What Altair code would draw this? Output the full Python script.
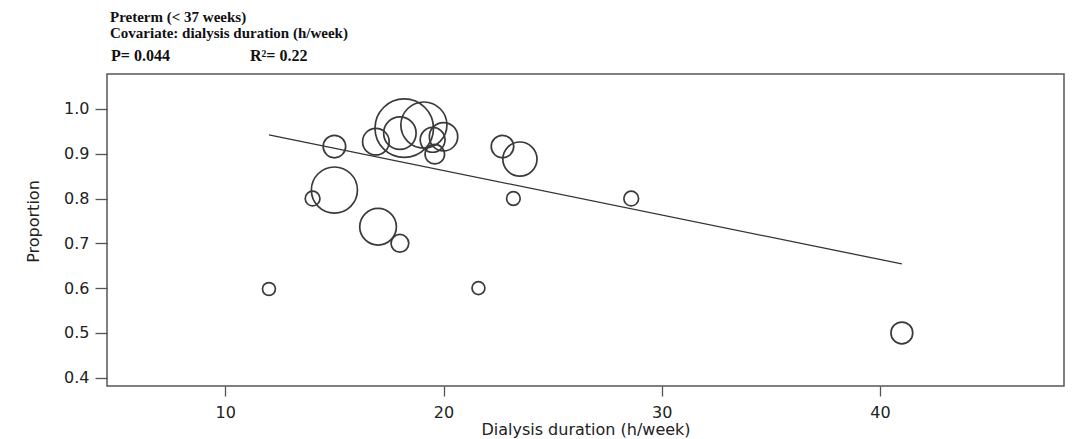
import altair as alt
import pandas as pd

# Study-level data
duration = [15.0, 16.9, 18.2, 18.0, 19.1, 20.0, 19.5, 19.6, 22.7, 23.5, 23.2,
            15.0, 14.0, 17.0, 18.0, 28.6, 21.6, 12.0, 41.0]
proportion = [0.916, 0.927, 0.957, 0.946, 0.964, 0.938, 0.931, 0.899, 0.916, 0.888, 0.80,
              0.819, 0.80, 0.737, 0.70, 0.80, 0.60, 0.598, 0.50]
weight = [161, 225, 1089, 335, 676, 256, 196, 121, 161, 372, 59,
          676, 69, 428, 100, 69, 53, 53, 151]

# Meta-regression line endpoints
line_x = [12.0, 41.0]
line_y = [0.942, 0.654]

title_lines = ["Preterm (< 37 weeks)", "Covariate: dialysis duration (h/week)"]
p_text = "P= 0.044"
r2_text = "R²= 0.22"

df = pd.DataFrame({"duration": duration, "proportion": proportion, "weight": weight})
df_line = pd.DataFrame({"duration": line_x, "proportion": line_y})

xscale = alt.Scale(domain=[4.58, 48.43], nice=False, zero=False)
yscale = alt.Scale(domain=[0.3815, 1.078], nice=False, zero=False)

axis_font = "DejaVu Sans"

x_enc = alt.X("duration:Q", scale=xscale,
              axis=alt.Axis(title="Dialysis duration (h/week)", values=[10, 20, 30, 40],
                            grid=False, domain=False, tickSize=10, tickColor="#555",
                            tickWidth=1.3, labelFont=axis_font, labelFontSize=16,
                            labelColor="#222", labelPadding=8, titleFont=axis_font,
                            titleFontSize=16, titleFontWeight="normal", titleColor="#222",
                            titlePadding=1))
y_enc = alt.Y("proportion:Q", scale=yscale,
              axis=alt.Axis(title="Proportion", values=[0.4, 0.5, 0.6, 0.7, 0.8, 0.9, 1.0],
                            format=".1f", grid=False, domain=False, tickSize=12,
                            tickColor="#555", tickWidth=1.3, labelFont=axis_font,
                            labelFontSize=16, labelColor="#222", labelPadding=6,
                            titleFont=axis_font, titleFontSize=16,
                            titleFontWeight="normal", titleColor="#222",
                            titleX=-74, titleY=147, titleBaseline="middle",
                            titleAlign="center"))

bubbles = alt.Chart(df).mark_circle(filled=False, stroke="#3a3a3a", strokeWidth=1.7,
                                    opacity=1).encode(
    x=x_enc, y=y_enc,
    size=alt.Size("weight:Q", scale=alt.Scale(domain=[0, 1000], range=[0, 3141.6]),
                  legend=None),
)

reg = alt.Chart(df_line).mark_line(color="#333", strokeWidth=1.3).encode(
    x=alt.X("duration:Q", scale=xscale), y=alt.Y("proportion:Q", scale=yscale))

serif = "Liberation Serif"
def label(text, x, y, size):
    return alt.Chart(pd.DataFrame({"t": [text]})).mark_text(
        font=serif, fontWeight="bold", fontSize=size, align="left",
        baseline="alphabetic", color="#111").encode(
        text="t:N", x=alt.value(x), y=alt.value(y))

texts = (label(title_lines[0], 3, -52.5, 15) + label(title_lines[1], 3, -36, 15)
         + label(p_text, 4, -13, 16) + label(r2_text, 143, -13, 16))

chart = alt.layer(reg, bubbles, texts).properties(
    width=957, height=312,
    autosize=alt.AutoSizeParams(type="none"),
    padding={"left": 99, "top": 66, "right": 8, "bottom": 57},
).configure_view(stroke="#555", strokeWidth=1.5)

chart.save("out.html", embed_options={"renderer": "svg", "actions": False})
